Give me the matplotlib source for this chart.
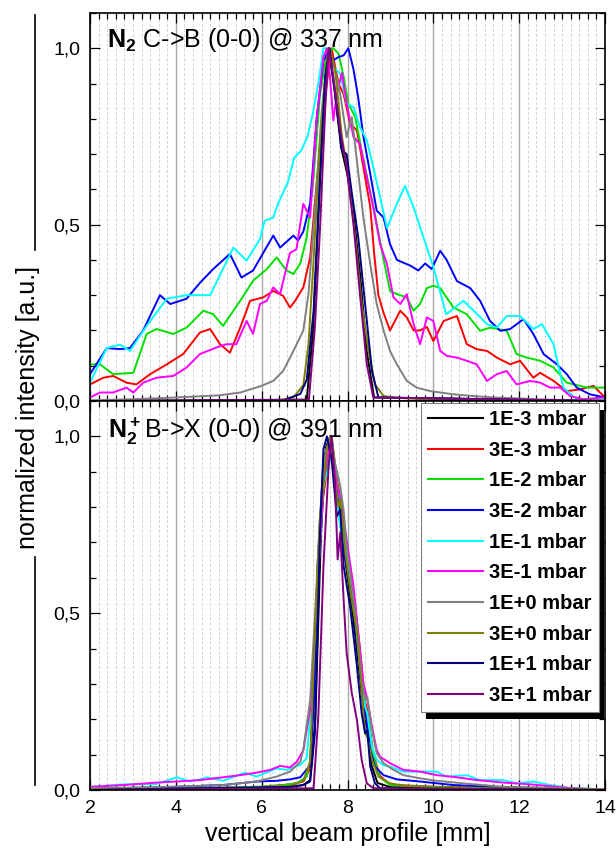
import matplotlib

matplotlib.use("Agg")
import matplotlib.pyplot as plt
from matplotlib.lines import Line2D
from matplotlib.patches import Rectangle
from matplotlib.ticker import MultipleLocator, FuncFormatter

plt.rcParams["font.family"] = ["Liberation Sans", "DejaVu Sans"]
plt.rcParams["mathtext.fontset"] = "custom"
plt.rcParams["mathtext.rm"] = "Liberation Sans"
plt.rcParams["mathtext.bf"] = "Liberation Sans:bold"

labels = ["1E-3 mbar", "3E-3 mbar", "1E-2 mbar", "3E-2 mbar", "1E-1 mbar",
          "3E-1 mbar", "1E+0 mbar", "3E+0 mbar", "1E+1 mbar", "3E+1 mbar"]
colors = ["#000000", "#ff0000", "#00e000", "#0000ff", "#00ffff",
          "#ff00ff", "#808080", "#808000", "#000080", "#800080"]

# ---- N2 C->B (0-0) @ 337 nm, upper panel ----
top_1e3_x = [2.0, 7.05, 7.2, 7.35, 7.47, 7.56, 7.7, 7.85, 8.0, 8.15, 8.3, 8.45, 8.62, 14.0]
top_1e3_y = [0.0, 0.004, 0.2, 0.6, 0.9, 1.0, 0.88, 0.72, 0.64, 0.52, 0.35, 0.14, 0.01, 0.0]

top_3e3_x = [2.0, 2.31, 2.54, 2.85, 3.08, 3.4, 3.79, 4.17, 4.56, 4.8, 5.03, 5.26, 5.5, 5.73,
             6.04, 6.27, 6.5, 6.66, 6.78, 6.97, 7.13, 7.28, 7.44, 7.56, 7.63, 7.79, 7.91,
             8.06, 8.22, 8.37, 8.53, 8.62, 8.72, 8.84, 8.99, 9.23, 9.38, 9.54, 9.69, 9.85,
             10.0, 10.24, 10.55, 10.78, 11.01, 11.25, 11.48, 11.79, 12.02, 12.33, 12.49,
             12.8, 13.11, 13.42, 13.73, 14.0]
top_3e3_y = [0.047, 0.066, 0.071, 0.052, 0.047, 0.076, 0.104, 0.133, 0.194, 0.204, 0.161,
             0.137, 0.208, 0.284, 0.294, 0.312, 0.298, 0.265, 0.284, 0.322, 0.407, 0.616,
             0.825, 0.94, 1.0, 0.90, 0.87, 0.786, 0.767, 0.663, 0.55, 0.42, 0.30, 0.25, 0.2,
             0.256, 0.237, 0.2, 0.2, 0.21, 0.17, 0.227, 0.241, 0.161, 0.147, 0.142, 0.123,
             0.104, 0.114, 0.066, 0.08, 0.057, 0.028, 0.033, 0.043, 0.01]

top_1e2_x = [2.0, 2.23, 2.54, 3.01, 3.32, 3.55, 3.94, 4.25, 4.64, 4.87, 5.1, 5.5, 5.8, 6.12,
             6.35, 6.58, 6.74, 6.9, 7.05, 7.2, 7.36, 7.52, 7.67, 7.79, 7.91, 8.02, 8.18,
             8.33, 8.49, 8.64, 8.8, 8.99, 9.15, 9.38, 9.54, 9.69, 9.85, 10.0, 10.16, 10.47,
             10.78, 11.09, 11.32, 11.71, 11.94, 12.18, 12.49, 12.8, 13.11, 13.58, 14.0]
top_1e2_y = [0.104, 0.104, 0.076, 0.08, 0.19, 0.204, 0.19, 0.208, 0.256, 0.246, 0.213,
             0.284, 0.341, 0.374, 0.407, 0.37, 0.36, 0.39, 0.464, 0.62, 0.87, 0.986, 1.0,
             0.985, 0.92, 0.843, 0.805, 0.71, 0.616, 0.53, 0.426, 0.312, 0.303, 0.294,
             0.256, 0.275, 0.32, 0.327, 0.32, 0.265, 0.246, 0.199, 0.208, 0.199, 0.133,
             0.123, 0.114, 0.095, 0.052, 0.038, 0.038]

top_3e2_x = [2.0, 2.39, 2.7, 2.93, 3.24, 3.63, 3.87, 4.25, 4.57, 4.87, 5.26, 5.53, 5.8,
             6.27, 6.43, 6.74, 6.85, 6.97, 7.13, 7.28, 7.44, 7.56, 7.67, 7.79, 7.91, 8.02,
             8.14, 8.25, 8.37, 8.53, 8.68, 8.84, 8.99, 9.15, 9.46, 9.65, 9.81, 9.96, 10.16,
             10.31, 10.55, 10.86, 11.09, 11.32, 11.56, 11.79, 12.1, 12.33, 12.57, 12.88,
             13.11, 13.34, 13.65, 14.0]
top_3e2_y = [0.076, 0.15, 0.147, 0.15, 0.20, 0.30, 0.275, 0.29, 0.336, 0.374, 0.417, 0.35,
             0.37, 0.469, 0.435, 0.469, 0.455, 0.48, 0.56, 0.80, 0.966, 0.99, 0.966,
             0.975, 0.98, 1.0, 0.94, 0.86, 0.75, 0.644, 0.54, 0.52, 0.445, 0.40, 0.384,
             0.37, 0.39, 0.374, 0.426, 0.40, 0.34, 0.32, 0.284, 0.227, 0.199, 0.204, 0.232,
             0.19, 0.133, 0.104, 0.076, 0.038, 0.019, 0.01]

top_1e1_x = [2.0, 2.39, 2.7, 2.93, 3.32, 3.79, 4.25, 4.8, 5.34, 5.65, 5.96, 6.07, 6.27,
             6.38, 6.61, 6.76, 6.92, 7.07, 7.2, 7.32, 7.44, 7.52, 7.67, 7.83, 7.98, 8.14,
             8.29, 8.45, 8.6, 8.76, 8.92, 9.15, 9.34, 9.54, 9.77, 10.0, 10.3, 10.7, 10.94,
             11.25, 11.48, 11.71, 12.02, 12.33, 12.53, 12.8, 13.03, 13.34, 13.89, 14.0]
top_1e1_y = [0.052, 0.15, 0.16, 0.142, 0.213, 0.29, 0.30, 0.30, 0.435, 0.398, 0.459,
             0.511, 0.52, 0.559, 0.62, 0.69, 0.71, 0.75, 0.82, 0.9, 1.0, 1.0, 0.947,
             0.928, 0.843, 0.833, 0.777, 0.739, 0.663, 0.578, 0.49, 0.559, 0.61, 0.549,
             0.464, 0.38, 0.246, 0.284, 0.256, 0.218, 0.208, 0.241, 0.241, 0.204, 0.218,
             0.161, 0.038, 0.005, 0.005, 0.005]

top_3e1_x = [2.0, 2.23, 2.54, 2.85, 3.01, 3.24, 3.55, 3.94, 4.25, 4.56, 4.95, 5.18, 5.41,
             5.65, 5.8, 5.96, 6.12, 6.27, 6.43, 6.66, 6.81, 6.97, 7.13, 7.28, 7.44, 7.52,
             7.59, 7.67, 7.75, 7.87, 7.98, 8.14, 8.29, 8.45, 8.6, 8.76, 8.92, 9.07, 9.23,
             9.38, 9.54, 9.69, 9.85, 10.0, 10.16, 10.31, 10.55, 10.78, 11.01, 11.25, 11.48,
             11.71, 11.94, 12.26, 12.49, 12.72, 12.96, 13.19, 13.5, 14.0]
top_3e1_y = [0.01, 0.024, 0.024, 0.038, 0.024, 0.052, 0.066, 0.071, 0.095, 0.133, 0.152,
             0.161, 0.161, 0.227, 0.19, 0.275, 0.284, 0.322, 0.303, 0.42, 0.43, 0.559, 0.52,
             0.80, 0.975, 1.0, 0.92, 0.795, 0.87, 0.93, 0.843, 0.748, 0.729, 0.634, 0.549,
             0.445, 0.388, 0.294, 0.275, 0.303, 0.218, 0.161, 0.237, 0.227, 0.142, 0.128,
             0.123, 0.114, 0.104, 0.057, 0.076, 0.085, 0.047, 0.057, 0.052, 0.038, 0.038,
             0.014, 0.005, 0.01]

top_1e0_x = [2.0, 3.0, 4.0, 5.0, 5.5, 6.0, 6.27, 6.5, 6.74, 6.97, 7.09, 7.24, 7.4, 7.56,
             7.71, 7.83, 7.98, 8.1, 8.22, 8.37, 8.53, 8.68, 8.84, 8.99, 9.15, 9.38, 9.61,
             9.93, 10.47, 10.94, 11.4, 12.02, 13.11, 14.0]
top_1e0_y = [0.002, 0.005, 0.01, 0.016, 0.024, 0.043, 0.057, 0.085, 0.142, 0.2, 0.303,
             0.54, 0.824, 1.0, 0.938, 0.87, 0.748, 0.805, 0.68, 0.52, 0.388, 0.275, 0.2,
             0.142, 0.104, 0.057, 0.038, 0.028, 0.019, 0.014, 0.01, 0.007, 0.002, 0.002]

top_3e0_x = [2.0, 6.4, 6.74, 6.97, 7.09, 7.21, 7.36, 7.52, 7.59, 7.71, 7.87, 8.02, 8.18,
             8.33, 8.49, 8.64, 8.84, 9.15, 9.77, 14.0]
top_3e0_y = [0.0, 0.002, 0.01, 0.045, 0.16, 0.40, 0.73, 0.966, 1.0, 0.94, 0.75, 0.634,
             0.464, 0.275, 0.142, 0.047, 0.014, 0.009, 0.005, 0.0]

top_1e1p_x = [2.0, 6.5, 6.9, 7.05, 7.21, 7.36, 7.48, 7.58, 7.71, 7.87, 7.98, 8.1, 8.25,
              8.41, 8.57, 8.72, 14.0]
top_1e1p_y = [0.0, 0.002, 0.02, 0.06, 0.256, 0.634, 0.92, 1.0, 0.87, 0.71, 0.70, 0.59,
              0.464, 0.275, 0.085, 0.01, 0.0]

top_3e1p_x = [2.0, 7.1, 7.24, 7.36, 7.48, 7.56, 7.67, 7.83, 7.98, 8.14, 8.29, 8.45, 8.6, 14.0]
top_3e1p_y = [0.0, 0.003, 0.208, 0.49, 0.825, 1.0, 0.92, 0.767, 0.663, 0.50, 0.303, 0.104,
              0.01, 0.0]

# ---- N2+ B->X (0-0) @ 391 nm, lower panel ----
bot_1e3_x = [2.0, 6.66, 6.97, 7.13, 7.25, 7.38, 7.5, 7.6, 7.72, 7.85, 7.98, 8.12, 8.28,
             8.4, 8.47, 8.56, 8.7, 9.0, 14.0]
bot_1e3_y = [0.0, 0.008, 0.014, 0.028, 0.2, 0.72, 0.97, 1.0, 0.85, 0.74, 0.62, 0.5, 0.33,
             0.2, 0.17, 0.07, 0.02, 0.008, 0.0]

bot_3e3_x = [2.0, 5.88, 6.66, 6.97, 7.13, 7.24, 7.4, 7.63, 7.75, 7.87, 7.98, 8.14, 8.29,
             8.41, 8.47, 8.6, 8.76, 8.99, 10.08, 11.63, 14.0]
bot_3e3_y = [0.001, 0.008, 0.016, 0.024, 0.06, 0.38, 0.80, 1.0, 0.88, 0.80, 0.69, 0.56,
             0.40, 0.25, 0.22, 0.10, 0.04, 0.015, 0.009, 0.005, 0.001]

bot_1e2_x = [2.0, 5.1, 6.35, 6.82, 7.05, 7.13, 7.24, 7.4, 7.63, 7.75, 7.87, 7.98, 8.14,
             8.29, 8.41, 8.49, 8.6, 8.76, 8.99, 10.08, 11.63, 14.0]
bot_1e2_y = [0.001, 0.006, 0.011, 0.019, 0.038, 0.085, 0.397, 0.82, 1.0, 0.87, 0.79, 0.68,
             0.557, 0.387, 0.236, 0.198, 0.094, 0.035, 0.014, 0.008, 0.004, 0.001]

bot_3e2_x = [2.0, 4.02, 5.1, 5.88, 6.35, 6.66, 6.9, 7.13, 7.22, 7.3, 7.44, 7.6, 7.75, 7.83,
             7.94, 8.1, 8.25, 8.37, 8.45, 8.53, 8.64, 8.84, 9.15, 9.69, 10.47, 11.63, 14.0]
bot_3e2_y = [0.003, 0.009, 0.014, 0.024, 0.026, 0.03, 0.036, 0.07, 0.25, 0.63, 0.935, 1.0,
             0.84, 0.784, 0.66, 0.557, 0.387, 0.255, 0.194, 0.113, 0.066, 0.042, 0.03,
             0.024, 0.014, 0.008, 0.002]

bot_1e1_x = [2.0, 2.78, 3.55, 4.02, 4.33, 4.56, 4.72, 5.1, 5.61, 5.88, 6.35, 6.58, 6.9,
             7.05, 7.13, 7.28, 7.44, 7.56, 7.63, 7.75, 7.83, 7.98, 8.14, 8.29, 8.41, 8.46,
             8.57, 8.68, 8.84, 8.99, 9.3, 9.69, 10.08, 10.31, 10.78, 11.09, 11.63, 11.94,
             12.33, 12.72, 13.19, 14.0]
bot_1e1_y = [0.008, 0.016, 0.017, 0.036, 0.024, 0.03, 0.036, 0.026, 0.049, 0.038, 0.061,
             0.057, 0.071, 0.09, 0.208, 0.538, 0.87, 0.907, 0.99, 0.82, 0.746, 0.68, 0.538,
             0.35, 0.236, 0.217, 0.123, 0.085, 0.07, 0.066, 0.052, 0.052, 0.052, 0.038,
             0.042, 0.028, 0.028, 0.019, 0.024, 0.014, 0.005, 0.002]

bot_3e1_x = [2.0, 2.78, 3.55, 4.02, 4.56, 5.1, 5.5, 5.88, 6.2, 6.43, 6.66, 6.82, 6.97,
             7.13, 7.28, 7.44, 7.61, 7.75, 7.83, 7.98, 8.14, 8.25, 8.37, 8.45, 8.57, 8.68,
             8.76, 8.99, 9.3, 9.69, 10.08, 10.55, 11.01, 11.63, 12.26, 12.88, 13.34, 14.0]
bot_3e1_y = [0.009, 0.014, 0.021, 0.024, 0.028, 0.036, 0.042, 0.049, 0.057, 0.068, 0.064,
             0.08, 0.113, 0.227, 0.538, 0.87, 1.0, 0.86, 0.83, 0.708, 0.576, 0.444, 0.30,
             0.264, 0.18, 0.113, 0.094, 0.076, 0.057, 0.052, 0.042, 0.036, 0.028, 0.021,
             0.016, 0.009, 0.004, 0.002]

bot_1e0_x = [2.0, 3.55, 5.1, 5.88, 6.35, 6.66, 6.9, 6.97, 7.13, 7.24, 7.36, 7.48, 7.6,
             7.71, 7.83, 7.91, 7.98, 8.1, 8.22, 8.33, 8.41, 8.46, 8.57, 8.68, 8.84, 9.07,
             9.3, 9.69, 10.08, 10.86, 11.63, 12.41, 14.0]
bot_1e0_y = [0.005, 0.008, 0.014, 0.024, 0.038, 0.052, 0.08, 0.113, 0.255, 0.49, 0.774,
             0.954, 1.0, 0.925, 0.86, 0.79, 0.69, 0.576, 0.463, 0.31, 0.255, 0.264, 0.17,
             0.104, 0.076, 0.057, 0.042, 0.033, 0.026, 0.017, 0.009, 0.007, 0.002]

bot_3e0_x = [2.0, 5.88, 6.66, 6.97, 7.13, 7.24, 7.36, 7.52, 7.61, 7.71, 7.79, 7.84, 7.94,
             8.06, 8.22, 8.33, 8.41, 8.46, 8.57, 8.72, 8.99, 9.38, 9.93, 11.63, 14.0]
bot_3e0_y = [0.001, 0.004, 0.011, 0.026, 0.08, 0.44, 0.774, 0.963, 1.0, 0.87, 0.80, 0.82,
             0.68, 0.567, 0.444, 0.283, 0.16, 0.151, 0.085, 0.038, 0.019, 0.011, 0.007,
             0.004, 0.001]

bot_1e1p_x = [2.0, 6.66, 6.97, 7.13, 7.24, 7.36, 7.44, 7.52, 7.63, 7.75, 7.83, 7.91, 8.06,
              8.22, 8.33, 8.41, 8.46, 8.53, 8.64, 8.76, 14.0]
bot_1e1p_y = [0.0, 0.009, 0.014, 0.024, 0.16, 0.727, 0.963, 1.0, 0.935, 0.774, 0.793,
              0.633, 0.52, 0.35, 0.217, 0.16, 0.17, 0.066, 0.019, 0.005, 0.0]

bot_3e1p_x = [2.0, 7.21, 7.32, 7.44, 7.56, 7.63, 7.71, 7.77, 7.83, 7.91, 7.98, 8.1, 8.22,
              8.33, 8.45, 8.6, 14.0]
bot_3e1p_y = [0.0, 0.005, 0.208, 0.633, 0.916, 1.0, 0.869, 0.652, 0.727, 0.538, 0.387,
              0.274, 0.198, 0.085, 0.019, 0.005, 0.0]

top_series = [(top_1e3_x, top_1e3_y), (top_3e3_x, top_3e3_y), (top_1e2_x, top_1e2_y),
              (top_3e2_x, top_3e2_y), (top_1e1_x, top_1e1_y), (top_3e1_x, top_3e1_y),
              (top_1e0_x, top_1e0_y), (top_3e0_x, top_3e0_y), (top_1e1p_x, top_1e1p_y),
              (top_3e1p_x, top_3e1p_y)]
bot_series = [(bot_1e3_x, bot_1e3_y), (bot_3e3_x, bot_3e3_y), (bot_1e2_x, bot_1e2_y),
              (bot_3e2_x, bot_3e2_y), (bot_1e1_x, bot_1e1_y), (bot_3e1_x, bot_3e1_y),
              (bot_1e0_x, bot_1e0_y), (bot_3e0_x, bot_3e0_y), (bot_1e1p_x, bot_1e1p_y),
              (bot_3e1p_x, bot_3e1p_y)]

W, H = 616, 855
fig = plt.figure(figsize=(W / 100, H / 100), dpi=100)
ax_top = fig.add_axes([90 / W, 1 - 401 / H, 515 / W, 388 / H])
ax_bot = fig.add_axes([90 / W, 1 - 790 / H, 515 / W, 389 / H])

comma = FuncFormatter(lambda v, p: f"{v:.1f}".replace(".", ","))

for ax, series in ((ax_top, top_series), (ax_bot, bot_series)):
    for (xs, ys), c, lab in zip(series, colors, labels):
        ax.plot(xs, ys, color=c, lw=1.4, label=lab)
    ax.set_xlim(2, 14)
    ax.set_ylim(0, 1.1)
    ax.xaxis.set_major_locator(MultipleLocator(2))
    ax.xaxis.set_minor_locator(MultipleLocator(0.2))
    ax.yaxis.set_major_locator(MultipleLocator(0.5))
    ax.yaxis.set_minor_locator(MultipleLocator(0.1))
    ax.yaxis.set_major_formatter(comma)
    ax.set_axisbelow(True)
    ax.grid(which="minor", axis="x", color="#d4d4d4", ls=(0, (3, 2)), lw=0.7)
    ax.grid(which="major", axis="x", color="#a8a8a8", lw=1.0)
    ax.tick_params(which="both", direction="in", top=True, right=True,
                   labelsize=14, width=0.9, pad=7)
    ax.tick_params(which="major", length=7)
    ax.tick_params(which="minor", length=4)
    for sp in ax.spines.values():
        sp.set_linewidth(1.2)

ax_top.tick_params(labelbottom=False)
ax_bot.set_xlabel("vertical beam profile [mm]", fontsize=18, labelpad=4)

ax_top.text(0.033, 0.912, r"$\mathbf{N_2}$ C->B (0-0) @ 337 nm", fontsize=18,
            transform=ax_top.transAxes, va="baseline", ha="left")
ax_bot.text(0.035, 0.905, r"$\mathbf{N_2^+}$B->X (0-0) @ 391 nm", fontsize=18,
            transform=ax_bot.transAxes, va="baseline", ha="left")

fig.text(28 / W, 1 - 407 / H, "normalized intensity [a.u.]", rotation=90,
         fontsize=18, ha="center", va="center")
fig.add_artist(Line2D([35 / W, 35 / W], [1 - 15 / H, 1 - 250 / H], color="black",
                      lw=1.2, transform=fig.transFigure))
fig.add_artist(Line2D([35 / W, 35 / W], [1 - 557 / H, 1 - 785 / H], color="black",
                      lw=1.2, transform=fig.transFigure))

leg = ax_bot.legend(loc="upper right", bbox_to_anchor=(599 / W, 1 - 403 / H),
                    bbox_transform=fig.transFigure, borderaxespad=0,
                    prop={"weight": "bold", "size": 14.5}, handlelength=2.75,
                    handletextpad=0.3, borderpad=0.35, labelspacing=0.58,
                    fancybox=False, framealpha=1, edgecolor="#808080")
leg.get_frame().set_linewidth(0.8)
for h in leg.get_lines():
    h.set_linewidth(1.5)

# black drop shadow of the legend box, offset to lower right
fig.canvas.draw()
bb = leg.get_frame().get_window_extent(fig.canvas.get_renderer())
inv = ax_bot.transAxes.inverted()
(x0, y0), (x1, y1) = inv.transform([(bb.x0 + 5, bb.y0 - 7), (bb.x1 + 5, bb.y1 - 7)])
ax_bot.add_patch(Rectangle((x0, y0), x1 - x0, y1 - y0, transform=ax_bot.transAxes,
                           facecolor="black", edgecolor="none", zorder=4.9,
                           clip_on=False))

fig.savefig("out.png", dpi=100)
